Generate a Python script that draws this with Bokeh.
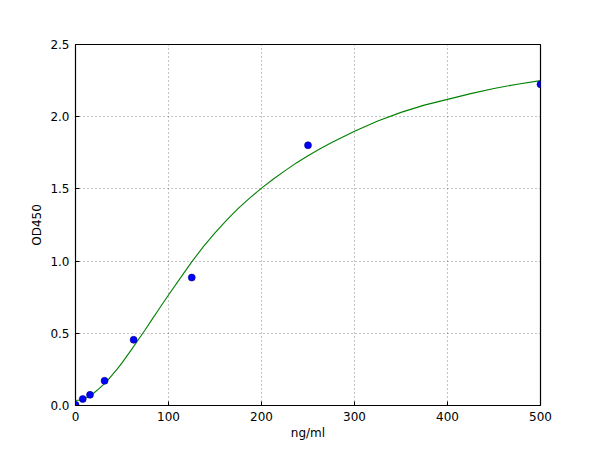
"""Standard curve: OD450 against concentration"""
from bokeh.embed import file_html
from bokeh.models import FixedTicker
from bokeh.plotting import figure
from bokeh.resources import INLINE

# Measured standards
conc = [0, 7.8, 15.6, 31.25, 62.5, 125, 250, 500]
od450 = [0.005, 0.045, 0.074, 0.171, 0.455, 0.886, 1.802, 2.224]

# Fitted curve
fit_x = [0, 5, 10, 15, 20, 25, 30, 35, 40, 45, 50, 55, 60, 67.5, 75, 82.5, 90,
         100, 112.5, 125, 137.5, 150, 162.5, 175, 187.5, 200, 212.5, 225, 237.5,
         250, 262.5, 275, 287.5, 300, 325, 350, 375, 400, 425, 450, 475, 500]
fit_y = [0.035, 0.038, 0.048, 0.065, 0.088, 0.115, 0.145, 0.178, 0.215, 0.254,
         0.295, 0.34, 0.385, 0.455, 0.525, 0.598, 0.67, 0.765, 0.88, 0.995,
         1.1, 1.195, 1.283, 1.365, 1.438, 1.505, 1.567, 1.625, 1.68, 1.73,
         1.777, 1.82, 1.86, 1.9, 1.97, 2.03, 2.08, 2.12, 2.16, 2.195, 2.225, 2.25]

x_ticks = [0, 100, 200, 300, 400, 500]
y_ticks = [0.0, 0.5, 1.0, 1.5, 2.0, 2.5]

FONT = "DejaVu Sans"

p = figure(frame_width=465, frame_height=361, x_range=(0, 500), y_range=(0, 2.5),
           output_backend="svg", toolbar_location=None, tools="",
           min_border_left=75, min_border_right=52, min_border_top=44, min_border_bottom=37,
           outline_line_color="black", outline_line_width=1.2)
p.background_fill_color = "white"
p.border_fill_color = "white"

p.line(fit_x, fit_y, color="#008000", line_width=1.1)
p.scatter(conc, od450, size=7, fill_color="#0000ff", line_color="#00007f", line_width=0.6)

p.xaxis.ticker = FixedTicker(ticks=x_ticks)
p.yaxis.ticker = FixedTicker(ticks=y_ticks)
p.xaxis.major_label_overrides = {t: f"{t}" for t in x_ticks}
p.yaxis.major_label_overrides = {t: f"{t:.1f}" for t in y_ticks}

for ax in (p.xaxis[0], p.yaxis[0]):
    ax.axis_line_color = None
    ax.major_tick_in = 4
    ax.major_tick_out = 0
    ax.major_tick_line_color = "black"
    ax.minor_tick_line_color = None
    ax.major_label_text_font = FONT
    ax.major_label_text_font_size = "12px"
    ax.major_label_text_color = "black"
    ax.axis_label_text_font = FONT
    ax.axis_label_text_font_size = "12px"
    ax.axis_label_text_font_style = "normal"
    ax.axis_label_text_color = "black"
p.xaxis.axis_label = "ng/ml"
p.yaxis.axis_label = "OD450"
p.xaxis.major_label_standoff = 6
p.yaxis.major_label_standoff = 6
p.xaxis.axis_label_standoff = 2
p.yaxis.axis_label_standoff = 3

p.xgrid.ticker = FixedTicker(ticks=x_ticks)
p.ygrid.ticker = FixedTicker(ticks=y_ticks)
p.grid.grid_line_color = "black"
p.grid.grid_line_alpha = 0.6
p.grid.grid_line_dash = "1 3"
p.grid.grid_line_width = 0.8

open("out.html", "w").write(file_html(p, INLINE))
